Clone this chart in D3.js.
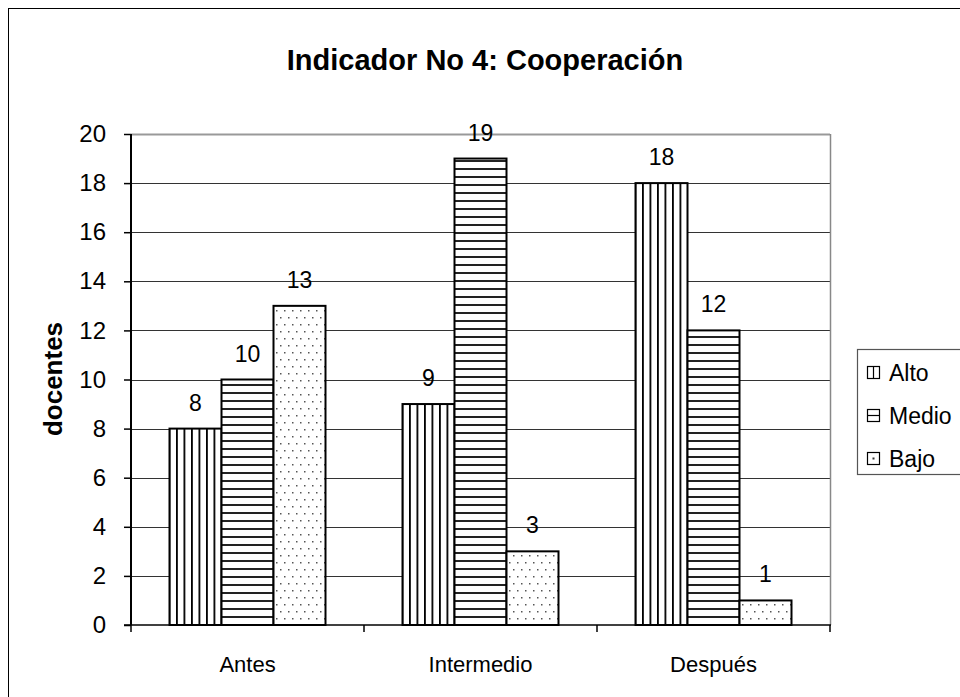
<!DOCTYPE html>
<html>
<head>
<meta charset="utf-8">
<script src="https://cdn.jsdelivr.net/npm/d3@7"></script>
<style>
  body { margin: 0; background: #fff; }
  svg { font-family: "Liberation Sans", Arial, sans-serif; display: block; }
</style>
</head>
<body>
<div id="container"></div>
<script>
// Chart data
const categories = ['Antes', 'Intermedio', 'Después'];
const seriesNames = ['Alto', 'Medio', 'Bajo'];
const alto = [8, 9, 18];
const medio = [10, 19, 12];
const bajo = [13, 3, 1];
const yTicks = [0, 2, 4, 6, 8, 10, 12, 14, 16, 18, 20];

const seriesValues = [alto, medio, bajo];
const patternIds = ['pat-vert', 'pat-horiz', 'pat-dots'];

const width = 960;
const height = 697;
const fontFam = '"Liberation Sans", Arial, sans-serif';

// plot area
const plot = { left: 131, top: 134, right: 830, bottom: 625 };

const svg = d3.select('#container').append('svg')
    .attr('width', width)
    .attr('height', height);

// patterns
const defs = svg.append('defs');

const pv = defs.append('pattern')
    .attr('id', 'pat-vert')
    .attr('patternUnits', 'userSpaceOnUse')
    .attr('width', 7.5).attr('height', 10);
pv.append('rect').attr('width', 7.5).attr('height', 10).attr('fill', '#fff');
pv.append('rect').attr('x', 0).attr('width', 1.8).attr('height', 10).attr('fill', '#000');

const ph = defs.append('pattern')
    .attr('id', 'pat-horiz')
    .attr('patternUnits', 'userSpaceOnUse')
    .attr('width', 10).attr('height', 8);
ph.append('rect').attr('width', 10).attr('height', 8).attr('fill', '#fff');
ph.append('rect').attr('y', 0).attr('width', 10).attr('height', 2).attr('fill', '#222');

const pd = defs.append('pattern')
    .attr('id', 'pat-dots')
    .attr('patternUnits', 'userSpaceOnUse')
    .attr('width', 8).attr('height', 14);
pd.append('rect').attr('width', 8).attr('height', 14).attr('fill', '#fff');
pd.append('rect').attr('x', 1).attr('y', 2).attr('width', 1.5).attr('height', 1.5).attr('fill', '#555');
pd.append('rect').attr('x', 5).attr('y', 9).attr('width', 1.5).attr('height', 1.5).attr('fill', '#555');

// outer frame
svg.append('rect')
    .attr('x', 8.5).attr('y', 8.5)
    .attr('width', width + 20).attr('height', height + 20)
    .attr('fill', 'none')
    .attr('stroke', '#000')
    .attr('stroke-width', 1);

// scales
const yScale = d3.scaleLinear()
    .domain([0, 20])
    .range([plot.bottom, plot.top]);

const x0 = d3.scaleBand()
    .domain(categories)
    .range([plot.left, plot.right])
    .paddingInner(0)
    .paddingOuter(0);

const x1 = d3.scaleBand()
    .domain(seriesNames)
    .range([38.5, x0.bandwidth() - 38.5]);

// gridlines
svg.append('g')
    .selectAll('line')
    .data(yTicks.filter(t => t > 0))
    .enter()
    .append('line')
    .attr('x1', plot.left).attr('x2', plot.right)
    .attr('y1', d => Math.round(yScale(d)) + 0.5)
    .attr('y2', d => Math.round(yScale(d)) + 0.5)
    .attr('stroke', d => d === 20 ? '#999' : '#333')
    .attr('stroke-width', d => d === 20 ? 2 : 1);

// right plot border
svg.append('line')
    .attr('x1', plot.right + 0.5).attr('x2', plot.right + 0.5)
    .attr('y1', plot.top).attr('y2', plot.bottom)
    .attr('stroke', '#888').attr('stroke-width', 1.5);

// bars
const groups = svg.append('g')
    .selectAll('g')
    .data(categories)
    .enter()
    .append('g')
    .attr('transform', d => 'translate(' + x0(d) + ',0)');

groups.selectAll('rect')
    .data((c, i) => seriesNames.map((s, j) => ({ s: s, v: seriesValues[j][i], j: j })))
    .enter()
    .append('rect')
    .attr('x', d => x1(d.s))
    .attr('y', d => yScale(d.v))
    .attr('width', x1.bandwidth())
    .attr('height', d => yScale(0) - yScale(d.v))
    .attr('fill', d => 'url(#' + patternIds[d.j] + ')')
    .attr('stroke', '#000')
    .attr('stroke-width', 2);

// value labels
groups.selectAll('text')
    .data((c, i) => seriesNames.map((s, j) => ({ s: s, v: seriesValues[j][i] })))
    .enter()
    .append('text')
    .attr('x', d => x1(d.s) + x1.bandwidth() / 2)
    .attr('y', d => yScale(d.v) - 18)
    .attr('text-anchor', 'middle')
    .style('font-size', '23px')
    .text(d => d.v);

// Y-Axis
const yAxis = svg.append('g')
    .attr('transform', 'translate(' + plot.left + ',0)')
    .call(d3.axisLeft(yScale).tickValues(yTicks).tickSize(7).tickPadding(18));
yAxis.attr('font-size', null).attr('font-family', null);
yAxis.selectAll('text').style('font-size', '24px').style('font-family', fontFam).attr('fill', '#000');
yAxis.select('.domain').attr('stroke', '#000').attr('stroke-width', 2).attr('d', 'M0,' + plot.top + 'V' + plot.bottom);
yAxis.selectAll('.tick line').attr('stroke', '#000').attr('stroke-width', 1.5);

// X-Axis
const xAxis = svg.append('g')
    .attr('transform', 'translate(0,' + plot.bottom + ')')
    .call(d3.axisBottom(x0).tickSize(0).tickPadding(31));
xAxis.attr('font-size', null).attr('font-family', null);
xAxis.selectAll('text').style('font-size', '22px').style('font-family', fontFam).attr('fill', '#000');
xAxis.select('.domain').attr('stroke', '#000').attr('stroke-width', 1.5).attr('d', 'M' + (plot.left - 7) + ',0H' + (plot.right + 1));

// category separator ticks
xAxis.selectAll('line.sep')
    .data(categories.map(c => x0(c)).concat([plot.right]))
    .enter()
    .append('line')
    .attr('class', 'sep')
    .attr('x1', d => d).attr('x2', d => d)
    .attr('y1', 0).attr('y2', 7)
    .attr('stroke', '#000').attr('stroke-width', 1.5);

// title
svg.append('text')
    .attr('x', 485)
    .attr('y', 70)
    .attr('text-anchor', 'middle')
    .style('font-size', '29px')
    .attr('font-weight', 'bold')
    .text('Indicador No 4: Cooperación');

// y label
svg.append('text')
    .attr('transform', 'rotate(-90)')
    .attr('x', -379)
    .attr('y', 62)
    .attr('text-anchor', 'middle')
    .style('font-size', '26px')
    .attr('font-weight', 'bold')
    .text('docentes');

// legend
const legend = svg.append('g');
legend.append('rect')
    .attr('x', 857.5).attr('y', 349.5)
    .attr('width', 120).attr('height', 125)
    .attr('fill', '#fff')
    .attr('stroke', '#555').attr('stroke-width', 1.2);

const legendItems = legend.selectAll('g')
    .data(seriesNames)
    .enter()
    .append('g')
    .attr('transform', (d, i) => 'translate(867,' + (373 + i * 43) + ')');

legendItems.append('rect')
    .attr('x', 0.5).attr('y', -6.5)
    .attr('width', 12).attr('height', 12)
    .attr('fill', '#fff')
    .attr('stroke', '#000').attr('stroke-width', 1.2);

// icon marks
legendItems.filter((d, i) => i === 0).append('line')
    .attr('x1', 6.5).attr('x2', 6.5).attr('y1', -6).attr('y2', 5.5)
    .attr('stroke', '#000').attr('stroke-width', 1.2);
legendItems.filter((d, i) => i === 1).append('line')
    .attr('x1', 1).attr('x2', 12.5).attr('y1', -0.5).attr('y2', -0.5)
    .attr('stroke', '#000').attr('stroke-width', 1.2);
legendItems.filter((d, i) => i === 2).append('rect')
    .attr('x', 5.5).attr('y', -1.5).attr('width', 2).attr('height', 2)
    .attr('fill', '#333');

legendItems.append('text')
    .attr('x', 22)
    .attr('y', 8)
    .style('font-size', '23px')
    .text(d => d);
</script>
</body>
</html>
